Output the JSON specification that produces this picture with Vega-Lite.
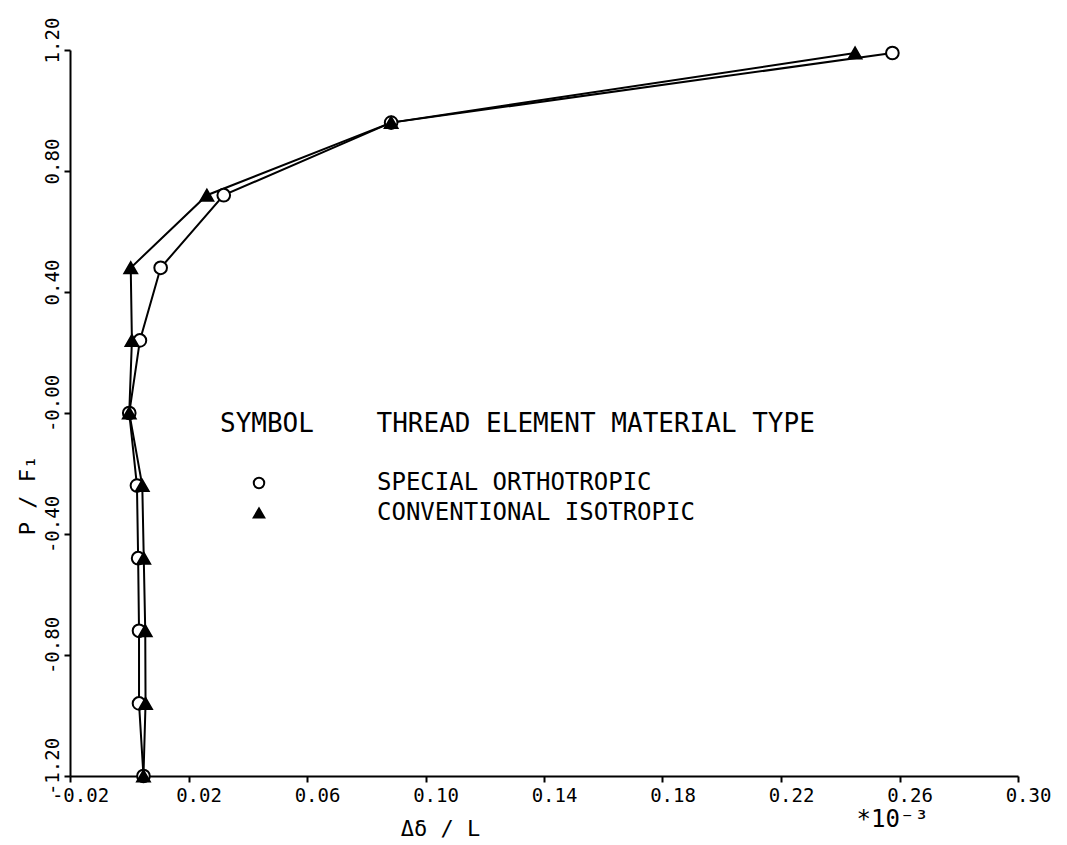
{
  "$schema": "https://vega.github.io/schema/vega-lite/v6.json",
  "width": 948,
  "height": 726,
  "autosize": {"type": "none"},
  "padding": {"left": 70, "top": 50, "right": 49, "bottom": 69},
  "background": "white",
  "config": {
    "font": "DejaVu Sans Mono",
    "view": {"stroke": null},
    "axis": {
      "domainColor": "black", "domainWidth": 2, "tickColor": "black", "tickWidth": 2, "tickSize": 6,
      "labelColor": "black", "titleColor": "black", "grid": false, "labelFlush": false,
      "labelFontSize": 19, "titleFontSize": 22, "labelFont": "DejaVu Sans Mono", "titleFont": "DejaVu Sans Mono",
      "titleFontWeight": "normal"
    },
    "legend": {
      "orient": "none", "legendX": 150, "legendY": 361,
      "titleFontSize": 26, "labelFontSize": 24, "titleFont": "DejaVu Sans Mono", "labelFont": "DejaVu Sans Mono",
      "titleFontWeight": "normal", "titleColor": "black", "labelColor": "black",
      "titlePadding": 34, "symbolSize": 110, "symbolStrokeWidth": 2, "symbolStrokeColor": "black",
      "symbolOffset": 27, "labelOffset": 106, "rowPadding": 6, "titleLimit": 1000, "labelLimit": 1000, "padding": 0
    }
  },
  "datasets": {
    "curves": [
      {"series": "SPECIAL ORTHOTROPIC", "x": 0.0048, "y": -1.2},
      {"series": "SPECIAL ORTHOTROPIC", "x": 0.0033, "y": -0.96},
      {"series": "SPECIAL ORTHOTROPIC", "x": 0.0033, "y": -0.72},
      {"series": "SPECIAL ORTHOTROPIC", "x": 0.0030, "y": -0.48},
      {"series": "SPECIAL ORTHOTROPIC", "x": 0.0026, "y": -0.24},
      {"series": "SPECIAL ORTHOTROPIC", "x": 0.0000, "y": 0.0},
      {"series": "SPECIAL ORTHOTROPIC", "x": 0.0036, "y": 0.24},
      {"series": "SPECIAL ORTHOTROPIC", "x": 0.0106, "y": 0.48},
      {"series": "SPECIAL ORTHOTROPIC", "x": 0.0319, "y": 0.72},
      {"series": "SPECIAL ORTHOTROPIC", "x": 0.0884, "y": 0.96},
      {"series": "SPECIAL ORTHOTROPIC", "x": 0.2576, "y": 1.19},
      {"series": "CONVENTIONAL ISOTROPIC", "x": 0.0048, "y": -1.2},
      {"series": "CONVENTIONAL ISOTROPIC", "x": 0.0055, "y": -0.96},
      {"series": "CONVENTIONAL ISOTROPIC", "x": 0.0054, "y": -0.72},
      {"series": "CONVENTIONAL ISOTROPIC", "x": 0.0049, "y": -0.48},
      {"series": "CONVENTIONAL ISOTROPIC", "x": 0.0044, "y": -0.24},
      {"series": "CONVENTIONAL ISOTROPIC", "x": 0.0000, "y": 0.0},
      {"series": "CONVENTIONAL ISOTROPIC", "x": 0.0009, "y": 0.24},
      {"series": "CONVENTIONAL ISOTROPIC", "x": 0.0005, "y": 0.48},
      {"series": "CONVENTIONAL ISOTROPIC", "x": 0.0262, "y": 0.72},
      {"series": "CONVENTIONAL ISOTROPIC", "x": 0.0884, "y": 0.96},
      {"series": "CONVENTIONAL ISOTROPIC", "x": 0.2450, "y": 1.19}
    ],
    "note": [
      {"x": 0.2455, "y": -1.345, "label": "*10⁻³"}
    ]
  },
  "encoding": {
    "x": {
      "field": "x", "type": "quantitative",
      "scale": {"domain": [-0.02, 0.30], "nice": false, "zero": false},
      "axis": {
        "values": [-0.02, 0.02, 0.06, 0.10, 0.14, 0.18, 0.22, 0.26, 0.30],
        "labelExpr": "replace(format(datum.value, '.2f'), '−', '-')",
        "labelOffset": 10, "labelPadding": 4,
        "title": "Δδ / L", "titleX": 370, "titleY": 52, "titleAlign": "center", "titleBaseline": "middle"
      }
    },
    "y": {
      "field": "y", "type": "quantitative",
      "scale": {"domain": [-1.2, 1.2], "nice": false, "zero": false},
      "axis": {
        "values": [-1.2, -0.8, -0.4, 0, 0.4, 0.8, 1.2],
        "labelExpr": "datum.value == 0 ? '-0.00' : replace(format(datum.value, '.2f'), '−', '-')",
        "labelAngle": 270, "labelAlign": "center", "labelBaseline": "bottom", "labelPadding": 2, "labelOffset": -10,
        "title": "P / F₁", "titleAngle": 270, "titleX": -43, "titleY": 445, "titleAlign": "center", "titleBaseline": "middle"
      }
    }
  },
  "layer": [
    {
      "data": {"name": "curves"},
      "mark": {"type": "line", "color": "black", "strokeWidth": 2},
      "encoding": {
        "detail": {"field": "series", "type": "nominal"},
        "order": {"field": "y", "type": "quantitative"}
      }
    },
    {
      "data": {"name": "curves"},
      "mark": {"type": "point", "strokeWidth": 2, "size": 160, "opacity": 1, "filled": false},
      "encoding": {
        "shape": {
          "field": "series", "type": "nominal",
          "title": "SYMBOL\u00a0\u00a0\u00a0\u00a0THREAD\u00a0ELEMENT\u00a0MATERIAL\u00a0TYPE",
          "scale": {"domain": ["SPECIAL ORTHOTROPIC", "CONVENTIONAL ISOTROPIC"], "range": ["circle", "triangle-up"]}
        },
        "fill": {
          "field": "series", "type": "nominal",
          "title": "SYMBOL\u00a0\u00a0\u00a0\u00a0THREAD\u00a0ELEMENT\u00a0MATERIAL\u00a0TYPE",
          "scale": {"domain": ["SPECIAL ORTHOTROPIC", "CONVENTIONAL ISOTROPIC"], "range": ["white", "black"]}
        },
        "stroke": {
          "field": "series", "type": "nominal",
          "title": "SYMBOL\u00a0\u00a0\u00a0\u00a0THREAD\u00a0ELEMENT\u00a0MATERIAL\u00a0TYPE",
          "scale": {"domain": ["SPECIAL ORTHOTROPIC", "CONVENTIONAL ISOTROPIC"], "range": ["black", "black"]}
        }
      }
    },
    {
      "data": {"name": "note"},
      "mark": {"type": "text", "align": "left", "baseline": "middle", "fontSize": 24, "color": "black", "font": "DejaVu Sans Mono"},
      "encoding": {
        "text": {"field": "label", "type": "nominal"}
      }
    }
  ]
}
